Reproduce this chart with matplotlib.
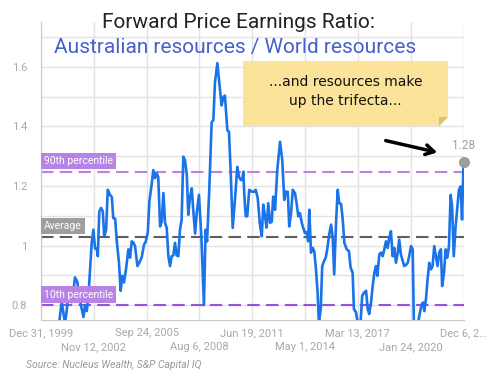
import numpy as np
import pandas as pd
import matplotlib
matplotlib.use("Agg")
import matplotlib.pyplot as plt
from matplotlib.patches import Polygon, FancyArrowPatch

plt.rcParams['font.family'] = ['Roboto', 'DejaVu Sans']

# decimal years and ratio values
years = [2000.00, 2000.38, 2000.76, 2000.98, 2001.12, 2001.30, 2001.39, 2001.48, 2001.57, 2001.67,
         2001.75, 2001.84, 2001.97, 2002.06, 2002.21, 2002.30, 2002.39, 2002.48, 2002.57, 2002.66,
         2002.75, 2002.84, 2002.93, 2003.02, 2003.08, 2003.16, 2003.26, 2003.35, 2003.43, 2003.53,
         2003.62, 2003.74, 2003.84, 2003.92, 2004.02, 2004.11, 2004.23, 2004.32, 2004.41, 2004.50,
         2004.61, 2004.74, 2004.83, 2004.92, 2005.01, 2005.10, 2005.23, 2005.33, 2005.46, 2005.59,
         2005.68, 2005.79, 2005.88, 2006.01, 2006.09, 2006.19, 2006.28, 2006.36, 2006.46, 2006.55,
         2006.64, 2006.73, 2006.82, 2006.91, 2007.00, 2007.09, 2007.18, 2007.27, 2007.36, 2007.45,
         2007.54, 2007.63, 2007.72, 2007.81, 2007.91, 2007.99, 2008.08, 2008.18, 2008.26, 2008.36,
         2008.45, 2008.57, 2008.70, 2008.84, 2008.93, 2009.01, 2009.13, 2009.26, 2009.35, 2009.44,
         2009.57, 2009.67, 2009.80, 2009.89, 2009.98, 2010.11, 2010.20, 2010.29, 2010.40, 2010.53,
         2010.65, 2010.74, 2010.84, 2010.92, 2010.98, 2011.03, 2011.11, 2011.19, 2011.30, 2011.43,
         2011.54, 2011.65, 2011.76, 2011.88, 2011.98, 2012.06, 2012.15, 2012.24, 2012.33, 2012.43,
         2012.52, 2012.60, 2012.70, 2012.82, 2012.97, 2013.09, 2013.20, 2013.29, 2013.39, 2013.47,
         2013.57, 2013.66, 2013.78, 2013.87, 2013.96, 2014.05, 2014.15, 2014.23, 2014.32, 2014.42,
         2014.50, 2014.56, 2014.65, 2014.74, 2014.83, 2014.92, 2015.01, 2015.08, 2015.18, 2015.26,
         2015.36, 2015.45, 2015.53, 2015.64, 2015.74, 2015.83, 2015.91, 2016.01, 2016.10, 2016.18,
         2016.28, 2016.37, 2016.46, 2016.59, 2016.71, 2016.80, 2016.91, 2016.98, 2017.09, 2017.22,
         2017.34, 2017.43, 2017.53, 2017.64, 2017.73, 2017.81, 2017.91, 2018.00, 2018.09, 2018.18,
         2018.25, 2018.36, 2018.45, 2018.54, 2018.63, 2018.72, 2018.81, 2018.90, 2018.99, 2019.08,
         2019.17, 2019.26, 2019.36, 2019.44, 2019.53, 2019.63, 2019.71, 2019.81, 2019.90, 2019.98,
         2020.08, 2020.17, 2020.24, 2020.37, 2020.53, 2020.66, 2020.74, 2020.80, 2020.89, 2020.98,
         2021.07, 2021.16, 2021.25, 2021.34, 2021.43, 2021.52, 2021.61, 2021.70, 2021.77, 2021.87,
         2021.96, 2022.05, 2022.14, 2022.23, 2022.31, 2022.40, 2022.50, 2022.58, 2022.68, 2022.77,
         2022.85, 2022.93]
ratio = [0.70, 0.68, 0.72, 0.74, 0.81, 0.74, 0.78, 0.837, 0.82, 0.81,
         0.843, 0.893, 0.877, 0.83, 0.787, 0.76, 0.80, 0.78, 0.83, 0.92,
         1.01, 1.053, 0.99, 0.99, 0.964, 1.114, 1.126, 1.114, 1.03, 1.053,
         1.187, 1.17, 1.163, 1.092, 1.09, 1.014, 0.942, 0.848, 0.898, 0.876,
         0.92, 0.987, 0.959, 1.014, 1.01, 0.998, 0.931, 0.942, 0.96, 1.003,
         1.013, 1.042, 1.148, 1.209, 1.253, 1.226, 1.242, 1.23, 1.064, 1.081,
         1.176, 1.076, 1.059, 0.964, 0.931, 0.964, 0.967, 1.009, 0.967, 0.964,
         1.053, 1.087, 1.298, 1.287, 1.237, 1.103, 1.16, 1.192, 1.12, 1.04,
         1.109, 1.17, 1.031, 0.80, 1.053, 1.014, 1.19, 1.414, 1.42, 1.548,
         1.612, 1.548, 1.47, 1.498, 1.503, 1.387, 1.381, 1.248, 1.059, 1.159,
         1.264, 1.231, 1.22, 1.22, 1.248, 1.17, 1.098, 1.098, 1.187, 1.181,
         1.18, 1.187, 1.159, 1.07, 1.031, 1.137, 1.10, 1.06, 1.142, 1.076,
         1.08, 1.164, 1.12, 1.253, 1.348, 1.287, 1.153, 1.181, 1.18, 1.064,
         1.109, 1.187, 1.176, 1.142, 1.098, 1.109, 1.076, 1.059, 1.042, 1.045,
         1.014, 1.12, 0.976, 0.992, 0.98, 0.92, 0.842, 0.74, 0.787, 0.931,
         0.948, 0.959, 0.987, 1.037, 1.07, 1.026, 0.903, 1.076, 1.187, 1.142,
         1.14, 1.09, 1.009, 0.987, 0.981, 0.926, 0.909, 0.787, 0.776, 0.73,
         0.74, 0.831, 0.842, 0.848, 0.787, 0.77, 0.809, 0.864, 0.909, 0.931,
         0.898, 0.97, 0.976, 0.964, 0.987, 1.014, 0.992, 1.026, 1.048, 0.964,
         0.992, 0.942, 0.976, 1.02, 0.97, 0.948, 0.931, 0.935, 0.942, 0.964,
         0.998, 0.987, 0.72, 0.70, 0.764, 0.803, 0.809, 0.78, 0.82, 0.887,
         0.942, 0.92, 0.931, 0.998, 0.964, 0.931, 0.976, 0.987, 0.864, 0.909,
         0.987, 0.959, 0.998, 1.17, 1.131, 0.964, 1.064, 1.12, 1.187, 1.198,
         1.087, 1.28]

tick_dates = ['1999-12-31', '2002-11-12', '2005-09-24', '2008-08-06', '2011-06-19',
              '2014-05-01', '2017-03-13', '2020-01-24', '2022-12-06']
tick_labels = ['Dec 31, 1999', 'Nov 12, 2002', 'Sep 24, 2005', 'Aug 6, 2008', 'Jun 19, 2011',
               'May 1, 2014', 'Mar 13, 2017', 'Jan 24, 2020', 'Dec 6, 2…']

ref_names = ['90th percentile', 'Average', '10th percentile']
ref_values = [1.247, 1.03, 0.80]
ref_colors = ['#b784e6', '#5f5f5f', '#9b4fe0']
ref_box = ['#b784e6', '#9e9e9e', '#b784e6']

last_label = '1.28'

# tick positions as decimal years
td = pd.to_datetime(tick_dates)
tick_pos = np.array(td.year + (td.dayofyear - 1) / 365.25)

W, H = 488, 382
fig = plt.figure(figsize=(W / 100, H / 100), dpi=100)
ax = fig.add_axes([41 / W, 1 - 320 / H, 422.5 / W, 298 / H])

ax.set_xlim(tick_pos[0], tick_pos[-1])
ax.set_ylim(0.75, 1.75)

yt = np.round(np.arange(0.8, 1.71, 0.1), 1)
ax.set_yticks(yt)
ax.set_yticklabels([('1' if abs(v - 1) < 1e-9 else f'{v:g}') if i % 2 == 0 else '' for i, v in enumerate(yt)])

# staggered date labels: upper row as major ticks, lower row as minor ticks
ax.set_xticks(tick_pos[::2])
ax.set_xticklabels(tick_labels[::2])
ax.set_xticks(tick_pos[1::2], minor=True)
ax.set_xticklabels(tick_labels[1::2], minor=True)
ax.tick_params(axis='both', which='both', length=0, colors='#a8a8a8', labelsize=8)
ax.tick_params(axis='y', pad=10)
ax.tick_params(axis='x', which='major', pad=6)
ax.tick_params(axis='x', which='minor', pad=16)
ax.grid(True, which='both', color='#e3e3e3', linewidth=1)
ax.set_axisbelow(True)
for s in ['top', 'right']:
    ax.spines[s].set_visible(False)
for s in ['left', 'bottom']:
    ax.spines[s].set_color('#c8c8c8')

# reference lines with labels
for name, val, col, bc in zip(ref_names, ref_values, ref_colors, ref_box):
    ax.axhline(val, color=col, linewidth=1.5, dashes=(6, 3), zorder=2)
    ax.annotate(name, xy=(tick_pos[0], val), xytext=(2.2, 4), textcoords='offset points',
                ha='left', va='bottom', color='white', fontsize=7.5,
                bbox=dict(boxstyle='square,pad=0.3', fc=bc, ec='none'), zorder=4)

ax.plot(years, ratio, color='#1a73e8', linewidth=1.9, zorder=3)
ax.plot(years[-1], ratio[-1], 'o', color='#9e9e9e', markersize=7, zorder=5, clip_on=False)
ax.annotate(last_label, xy=(years[-1], ratio[-1]), xytext=(0, 7), textcoords='offset points',
            ha='center', va='bottom', color='#9e9e9e', fontsize=8.5)

# titles
fig.text(0.488, 1 - 28 / H, 'Forward Price Earnings Ratio:', ha='center', va='baseline',
         fontsize=15, color='#222222')
fig.text(0.482, 1 - 53 / H, 'Australian resources / World resources', ha='center', va='baseline',
         fontsize=15, color='#4660cc')

# sticky note
x0, x1, y0, y1 = 243 / W, 448 / W, 1 - 126 / H, 1 - 61 / H
fold = 9
note = Polygon([(x0, y0), (x1 - fold / W, y0), (x1, y0 + fold / H), (x1, y1), (x0, y1)],
               closed=True, transform=fig.transFigure, fc='#fbe39a', ec='none', zorder=6)
fig.patches.append(note)
corner = Polygon([(x1 - fold / W, y0), (x1 - fold / W, y0 + fold / H), (x1, y0 + fold / H)],
                 closed=True, transform=fig.transFigure, fc='#d9c17a', ec='none', zorder=7)
fig.patches.append(corner)
fig.text((x0 + x1) / 2, (y0 + y1) / 2 + 0.005, '...and resources make\nup the trifecta...',
         ha='center', va='center', fontsize=10, color='#111111', linespacing=1.5,
         family=['DejaVu Sans'], zorder=8)

# arrow
fig.add_artist(FancyArrowPatch(
    (383 / W, 1 - 140 / H), (440 / W, 1 - 153 / H), transform=fig.transFigure,
    arrowstyle='->,head_length=6,head_width=3.5', color='black', linewidth=2.5))

fig.text(26 / W, 1 - 368 / H, 'Source: Nucleus Wealth, S&P Capital IQ', ha='left', va='baseline',
         fontsize=7.5, style='italic', color='#9a9a9a')

fig.savefig('out.png', dpi=100)
